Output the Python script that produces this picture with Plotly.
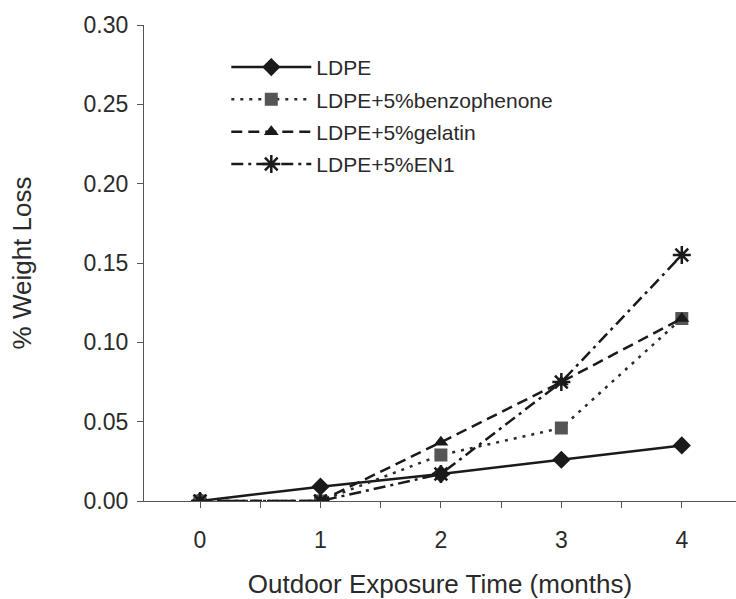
import plotly.graph_objects as go

months = [0, 1, 2, 3, 4]
ldpe = [0.0, 0.009, 0.017, 0.026, 0.035]
benzophenone = [0.0, 0.0, 0.029, 0.046, 0.115]
gelatin = [0.0, 0.0, 0.037, 0.075, 0.115]
en1 = [0.0, 0.0, 0.017, 0.075, 0.155]
y_ticks = [0.0, 0.05, 0.10, 0.15, 0.20, 0.25, 0.30]

FONT = "Liberation Sans, Arial, sans-serif"
INK = "#2a2a2a"

fig = go.Figure()
fig.add_trace(go.Scatter(
    x=months, y=ldpe, name="LDPE", mode="lines+markers", legendgroup="a",
    line=dict(color="#1a1a1a", width=2.5, dash="solid"),
    marker=dict(symbol="diamond", size=14, color="#1a1a1a")))
fig.add_trace(go.Scatter(
    x=months, y=benzophenone, name="LDPE+5%benzophenone", mode="lines+markers", legendgroup="b",
    line=dict(color="#2a2a2a", width=2.5, dash="3px,6px"),
    marker=dict(symbol="square", size=13, color="#555555")))
fig.add_trace(go.Scatter(
    x=months, y=gelatin, name="LDPE+5%gelatin", mode="lines+markers", legendgroup="c",
    line=dict(color="#1a1a1a", width=2.5, dash="11px,6px"),
    marker=dict(symbol="triangle-up", size=13, color="#1a1a1a")))
fig.add_trace(go.Scatter(
    x=months, y=en1, name="LDPE+5%EN1", mode="lines+markers", legendgroup="d",
    line=dict(color="#1a1a1a", width=2.5, dash="12px,5px,3px,5px"),
    marker=dict(symbol="asterisk-open", size=15, color="#1a1a1a",
                line=dict(width=2.5, color="#1a1a1a"))))

fig.update_layout(
    width=736, height=599,
    margin=dict(l=144, r=0, t=25, b=98),
    paper_bgcolor="white", plot_bgcolor="white",
    font=dict(family=FONT, color=INK, size=23),
    showlegend=True,
    legend=dict(x=0.139, y=0.954, xanchor="left", yanchor="top",
                bgcolor="rgba(0,0,0,0)", font=dict(size=21, family=FONT, color=INK),
                tracegroupgap=2, itemwidth=80),
    xaxis=dict(range=[-0.465, 4.45], tickvals=months, ticktext=[str(m) for m in months],
               showgrid=False, zeroline=False, showline=True, linecolor="#555", linewidth=1.2,
               ticks="outside", ticklen=6, tickcolor="#555", ticklabelstandoff=12,
               minor=dict(dtick=0.5, tick0=0, ticks="outside", ticklen=6, tickcolor="#555"),
               tickfont=dict(size=23), title=dict(text="Outdoor Exposure Time (months)",
                                                 font=dict(size=26), standoff=24)),
    yaxis=dict(range=[0, 0.30], tickvals=y_ticks, tickformat=".2f",
               showgrid=False, zeroline=False, showline=True, linecolor="#555", linewidth=1.2,
               ticks="outside", ticklen=6, tickcolor="#555", ticklabelstandoff=4,
               tickfont=dict(size=23), title=dict(text="% Weight Loss", font=dict(size=26),
                                                 standoff=44)),
)

fig.write_html("out.html")
